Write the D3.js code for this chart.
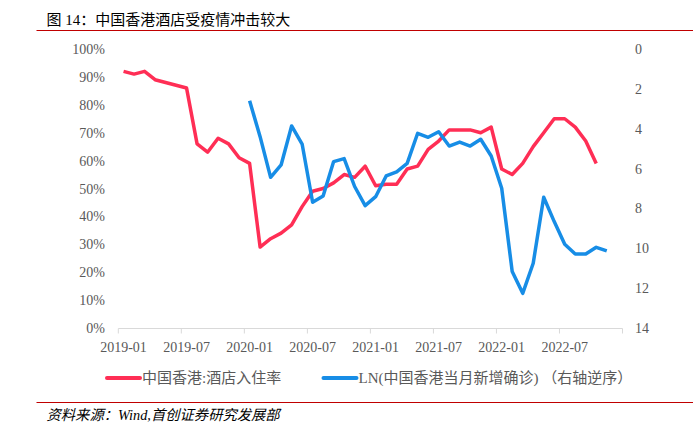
<!DOCTYPE html>
<html>
<head>
<meta charset="utf-8">
<script src="https://cdn.jsdelivr.net/npm/d3@7"></script>
<style>
  body { margin: 0; background: #fff; overflow: hidden; }
  svg { display: block; }
  text { font-family: "Liberation Serif", "Noto Sans CJK SC", serif; }
</style>
</head>
<body>
<svg id="chart"></svg>
<script>
// months on the category axis, 2019-01 .. 2022-12
var months = d3.utcMonths(new Date(Date.UTC(2019, 0, 1)), new Date(Date.UTC(2023, 0, 1)))
    .map(d3.utcFormat("%Y-%m"));

var tickMonths = ["2019-01", "2019-07", "2020-01", "2020-07", "2021-01", "2021-07", "2022-01", "2022-07"];

// hotel occupancy (%), from 2019-01
var occupancy = [92, 91, 92, 89, 88, 87, 86, 66, 63, 68, 66, 61,
                 59, 29, 32, 34, 37, 43.5, 49, 50, 52, 55, 54, 58,
                 51, 51.5, 51.5, 57, 58, 64, 67, 71, 71, 71, 70, 72,
                 57, 55, 59, 65, 70, 75, 75, 72, 67, 59, null, null];

// LN(new confirmed cases per month), right axis reversed
var lnCases = [null, null, null, null, null, null, null, null, null, null, null, null,
               2.6, 4.4, 6.44, 5.82, 3.86, 4.77, 7.69, 7.38, 5.65, 5.5, 6.9, 7.86,
               7.41, 6.37, 6.16, 5.74, 4.23, 4.43, 4.15, 4.87, 4.67, 4.87, 4.53, 5.37,
               6.99, 11.17, 12.26, 10.75, 7.44, 8.66, 9.8, 10.29, 10.29, 9.95, 10.13, null];

var leftTicks = [0, 10, 20, 30, 40, 50, 60, 70, 80, 90, 100];
var rightTicks = [0, 2, 4, 6, 8, 10, 12, 14];

var svgWidth = 693;
var svgHeight = 433;
var redColor = "#ff2e55";
var blueColor = "#178de6";
var gray = "#595959";

var svg = d3.select("#chart")
    .attr("width", svgWidth)
    .attr("height", svgHeight);

var xScale = d3.scaleBand()
    .domain(months)
    .range([118.3, 622.5]);

var yLeft = d3.scaleLinear().domain([0, 100]).range([328, 49]);
var yRight = d3.scaleLinear().domain([0, 14]).range([49, 328]);

function cx(m) { return xScale(m) + xScale.bandwidth() / 2; }

// title
svg.append("text")
    .attr("x", 46.5)
    .attr("y", 25)
    .attr("font-size", "15px")
    .attr("fill", "#000")
    .text("图 14：中国香港酒店受疫情冲击较大");

svg.append("line")
    .attr("x1", 36.5).attr("x2", svgWidth)
    .attr("y1", 30.5).attr("y2", 30.5)
    .attr("stroke", "#c00000")
    .attr("stroke-width", 1.2);

// x axis line and ticks at category boundaries
svg.append("line")
    .attr("x1", xScale.range()[0]).attr("x2", xScale.range()[1])
    .attr("y1", 328.5).attr("y2", 328.5)
    .attr("stroke", "#d9d9d9")
    .attr("stroke-width", 1);

var tickPos = tickMonths.map(function(m) { return xScale(m); }).concat([xScale.range()[1]]);
svg.selectAll("line.xt")
    .data(tickPos)
    .enter()
    .append("line")
    .attr("class", "xt")
    .attr("x1", function(d) { return d; })
    .attr("x2", function(d) { return d; })
    .attr("y1", 328.5).attr("y2", 333.5)
    .attr("stroke", "#d9d9d9");

svg.selectAll("text.xl")
    .data(tickMonths)
    .enter()
    .append("text")
    .attr("class", "xl")
    .attr("x", function(d) { return cx(d); })
    .attr("y", 352)
    .attr("text-anchor", "middle")
    .attr("font-size", "14px")
    .attr("fill", gray)
    .text(function(d) { return d; });

// lines
var redLine = d3.line()
    .defined(function(d) { return d != null; })
    .x(function(d, i) { return cx(months[i]); })
    .y(function(d) { return yLeft(d); });

var blueLine = d3.line()
    .defined(function(d) { return d != null; })
    .x(function(d, i) { return cx(months[i]); })
    .y(function(d) { return yRight(d); });

svg.append("path")
    .attr("d", redLine(occupancy))
    .attr("fill", "none")
    .attr("stroke", redColor)
    .attr("stroke-width", 3.5)
    .attr("stroke-linejoin", "round");

svg.append("path")
    .attr("d", blueLine(lnCases))
    .attr("fill", "none")
    .attr("stroke", blueColor)
    .attr("stroke-width", 3.5)
    .attr("stroke-linejoin", "round");

// right axis labels
var rightAxis = svg.append("g").attr("class", "right-axis");
rightAxis.selectAll("text")
    .data(rightTicks)
    .enter()
    .append("text")
    .attr("x", 635)
    .attr("y", function(d) { return yRight(d) + 5; })
    .attr("font-size", "14px")
    .attr("fill", gray)
    .text(function(d) { return d; });

// legend
var legend = [
    { name: "中国香港:酒店入住率", color: redColor, x: 107 },
    { name: "LN(中国香港当月新增确诊) （右轴逆序）", color: blueColor, x: 323.5 }
];

var lg = svg.selectAll("g.lg")
    .data(legend)
    .enter()
    .append("g")
    .attr("class", "lg")
    .attr("transform", function(d) { return "translate(" + d.x + ",378)"; });

lg.append("line")
    .attr("x1", 0).attr("x2", 33)
    .attr("y1", 0).attr("y2", 0)
    .attr("stroke", function(d) { return d.color; })
    .attr("stroke-width", 4)
    .attr("stroke-linecap", "round");

lg.append("text")
    .attr("x", 35)
    .attr("y", 5)
    .attr("font-size", "15px")
    .attr("fill", gray)
    .text(function(d) { return d.name; });

// source
svg.append("line")
    .attr("x1", 36.5).attr("x2", svgWidth)
    .attr("y1", 402.5).attr("y2", 402.5)
    .attr("stroke", "#c00000")
    .attr("stroke-width", 1.2);

svg.append("text")
    .attr("x", 46.5)
    .attr("y", 420)
    .attr("font-size", "14.3px")
    .attr("font-style", "italic")
    .attr("fill", "#000")
    .text("资料来源：Wind,首创证券研究发展部");

// left axis labels (drawn last)
var leftAxis = svg.append("g").attr("class", "left-axis");
leftAxis.selectAll("text")
    .data(leftTicks)
    .enter()
    .append("text")
    .attr("x", 105)
    .attr("y", function(d) { return yLeft(d) + 5; })
    .attr("text-anchor", "end")
    .attr("font-size", "14px")
    .attr("fill", gray)
    .text(function(d) { return d + "%"; });
</script>
</body>
</html>
